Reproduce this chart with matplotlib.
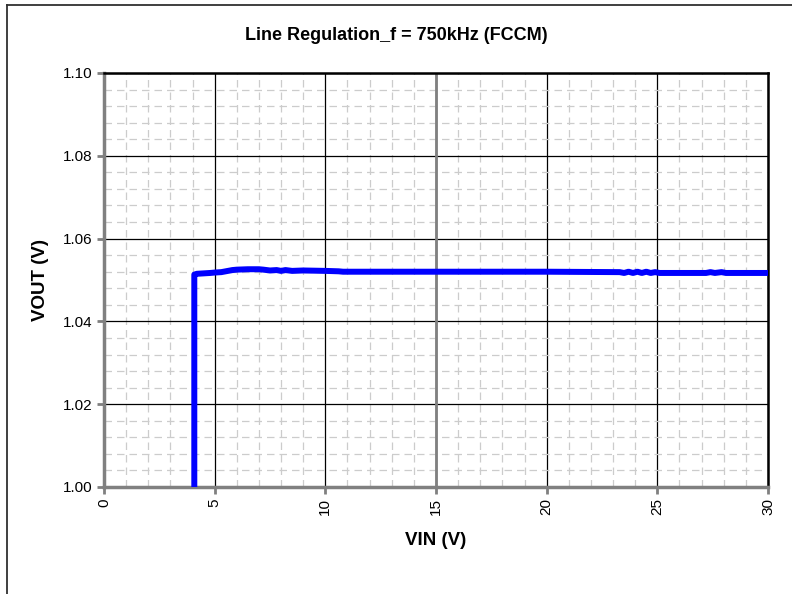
import matplotlib
matplotlib.use("Agg")
import matplotlib.pyplot as plt
from matplotlib.ticker import MultipleLocator, FormatStrFormatter
from matplotlib.lines import Line2D

plt.rcParams['font.family'] = ['Liberation Sans', 'DejaVu Sans']

title = "Line Regulation_f = 750kHz (FCCM)"
xlabel = "VIN (V)"
ylabel = "VOUT (V)"

vin = [4.08, 4.08, 4.2, 4.5, 4.8, 5.0, 5.3, 5.6, 5.8, 6.0, 6.5, 7.0, 7.2, 7.5,
       7.8, 8.0, 8.2, 8.5, 9.0, 10.0, 10.6, 10.8, 12.0, 15.0, 20.0, 23.3, 23.5,
       23.7, 23.9, 24.1, 24.3, 24.5, 24.7, 24.9, 25.1, 26.0, 27.2, 27.4, 27.6,
       27.9, 28.1, 29.0, 30.0]
vout = [1.000, 1.0513, 1.0515, 1.0516, 1.0517, 1.0518, 1.0519, 1.0522, 1.0524,
        1.0525, 1.0526, 1.0526, 1.0525, 1.0523, 1.0524, 1.0522, 1.0524, 1.0522,
        1.0523, 1.0522, 1.0521, 1.0520, 1.0520, 1.0520, 1.0520, 1.0519, 1.0517,
        1.0520, 1.0517, 1.0520, 1.0517, 1.0520, 1.0517, 1.0519, 1.0517, 1.0517,
        1.0517, 1.0519, 1.0517, 1.0519, 1.0517, 1.0517, 1.0517]

fig = plt.figure(figsize=(7.92, 5.94), dpi=100)
ax = fig.add_axes([104/792, 1-487/594, (768-104)/792, (487-73)/594])

ax.set_xlim(0, 30)
ax.set_ylim(1.00, 1.10)
ax.xaxis.set_major_locator(MultipleLocator(5))
ax.xaxis.set_minor_locator(MultipleLocator(1))
ax.yaxis.set_major_locator(MultipleLocator(0.02))
ax.yaxis.set_minor_locator(MultipleLocator(0.004))
ax.yaxis.set_major_formatter(FormatStrFormatter('%.2f'))

ax.grid(which='minor', color='#cccccc', linestyle=(0, (6, 4)), linewidth=0.9)
ax.grid(which='major', color='black', linestyle='-', linewidth=0.9)
ax.set_axisbelow(True)
ax.axvline(15, color='#808080', linewidth=2, zorder=1.5)

ax.plot(vin, vout, color='#0000ff', linewidth=4.3, solid_joinstyle='round',
        solid_capstyle='butt', zorder=3)

for s in ['left', 'bottom']:
    ax.spines[s].set_color('#808080')
    ax.spines[s].set_linewidth(2.5)
for s in ['top', 'right']:
    ax.spines[s].set_color('black')
    ax.spines[s].set_linewidth(1.8)

ax.tick_params(which='major', direction='out', length=5, width=2, color='#808080',
               labelsize=11, pad=3)
ax.tick_params(which='minor', length=0)
ax.tick_params(axis='x', labelrotation=90)

ax.set_xlabel(xlabel, fontsize=13.5, fontweight='bold', labelpad=12)
ax.set_ylabel(ylabel, fontsize=13.5, fontweight='bold', labelpad=10)

fig.text(0.5, 1-35/594, title, ha='center', va='center', fontsize=13,
         fontweight='bold')

# outer chart frame
fig.add_artist(Line2D([7/792, 1.0], [1-5/594, 1-5/594], color='#303030',
                      linewidth=1.3, transform=fig.transFigure))
fig.add_artist(Line2D([7/792, 7/792], [1-5/594, 0.0], color='#303030',
                      linewidth=1.3, transform=fig.transFigure))

fig.savefig("out.png", dpi=100)
